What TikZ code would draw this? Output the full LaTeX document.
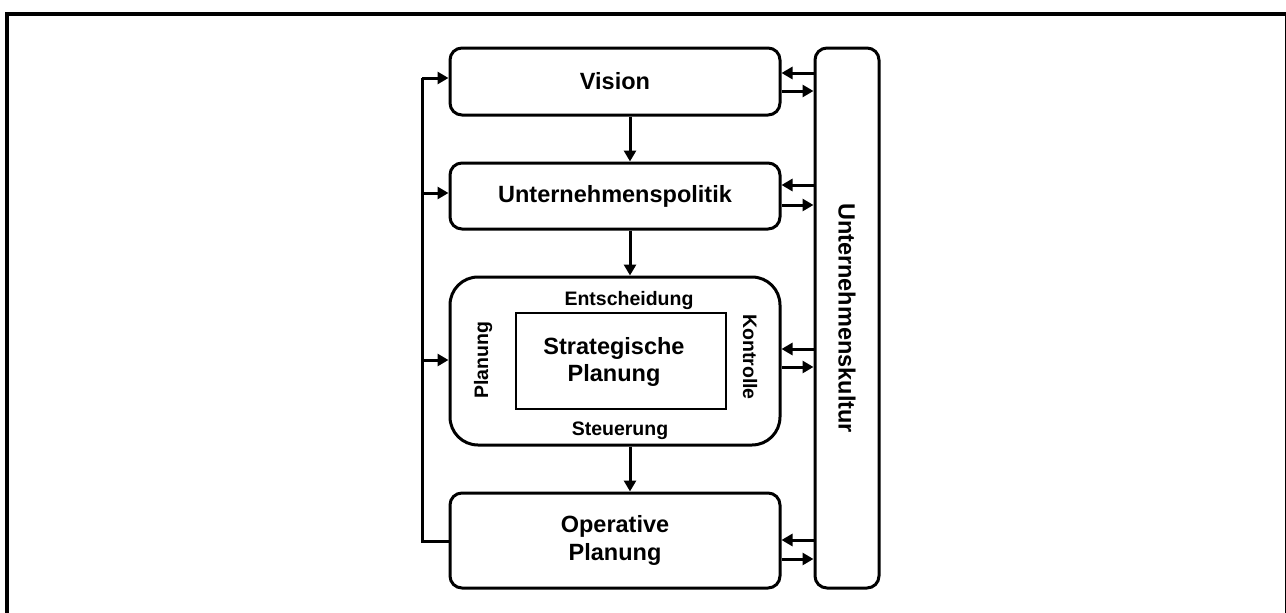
\documentclass[tikz,border=0pt]{standalone}
\usepackage{fontspec}
\setmainfont{Liberation Sans}
\usetikzlibrary{arrows.meta}
\begin{document}
\begin{tikzpicture}[x=1pt,y=-1pt,
  box/.style={draw,line width=3pt,rounded corners=12pt,inner sep=0pt,
    minimum width=330pt,align=center,font=\fontsize{23.5}{28}\selectfont\bfseries},
  lbl/.style={inner sep=0pt,font=\fontsize{19.5}{23}\selectfont\bfseries},
  conn/.style={line width=3pt},
  arr/.style={line width=3pt,-{Triangle[length=11pt,width=12pt]}}]
\useasboundingbox (0,0) rectangle (1286,613);
% outer frame
\draw[line width=4pt] (6.5,620) -- (6.5,13.5) -- (1287,13.5) -- (1287,620);

% main chain
\node[box,minimum height=67pt] (vis) at (615,81.5) {Vision};
\node[box,minimum height=66pt] (pol) at (615,196) {Unternehmenspolitik};
\node[box,minimum height=168pt,rounded corners=28pt] (str) at (615,361) {};
\node[box,minimum height=95pt] (op) at (615,540.5) {Operative\\Planung};
\node[box,minimum width=64pt,minimum height=540pt] (cult) at (847,318) {};
\node[rotate=-90,inner sep=0pt,font=\fontsize{23.5}{28}\selectfont\bfseries] (cultlbl) at (cult.center) {Unternehmenskultur};

% strategic planning core
\node[draw,line width=1.5pt,minimum width=210pt,minimum height=96pt,inner sep=0pt] (core) at (621,361) {};
\node[align=center,inner sep=0pt,font=\fontsize{23.5}{27}\selectfont\bfseries] (corelbl) at (614,362) {Strategische\\Planung};
\node[lbl] (ent) at (629,300) {Entscheidung};
\node[lbl] (ste) at (620,431) {Steuerung};
\node[lbl,rotate=90] (pla) at (483,360) {Planung};
\node[lbl,rotate=-90] (kon) at (750,357) {Kontrolle};

% downward flow
\draw[arr] (vis.south -| 630,0) -- (pol.north -| 630,0);
\draw[arr] (pol.south -| 630,0) -- (str.north -| 630,0);
\draw[arr] (str.south -| 630,0) -- (op.north -| 630,0);

% feedback loop on the left
\coordinate (lx) at (422,0);
\draw[conn] (op.west |- 0,541) -- (lx |- 0,541) -- (lx |- 0,78);
\draw[arr] (lx |- 0,78) -- (vis.west |- 0,78);
\draw[arr] (lx |- 0,193) -- (pol.west |- 0,193);
\draw[arr] (lx |- 0,360) -- (str.west |- 0,360);

% exchange with corporate culture
\draw[arr] (cult.west |- 0,73) -- (vis.east |- 0,73);
\draw[arr] (vis.east |- 0,91) -- (cult.west |- 0,91);
\draw[arr] (cult.west |- 0,185) -- (pol.east |- 0,185);
\draw[arr] (pol.east |- 0,205) -- (cult.west |- 0,205);
\draw[arr] (cult.west |- 0,349) -- (str.east |- 0,349);
\draw[arr] (str.east |- 0,367) -- (cult.west |- 0,367);
\draw[arr] (cult.west |- 0,540) -- (op.east |- 0,540);
\draw[arr] (op.east |- 0,559) -- (cult.west |- 0,559);
\end{tikzpicture}
\end{document}
